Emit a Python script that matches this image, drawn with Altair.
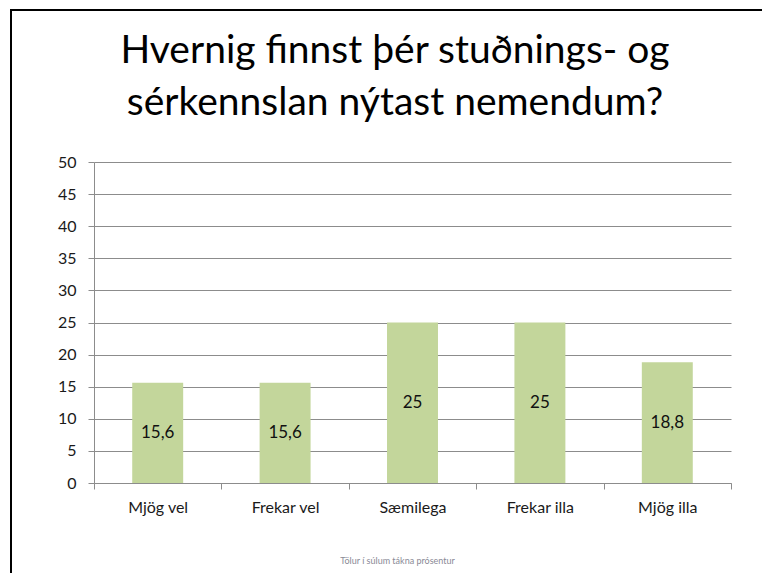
import altair as alt
import pandas as pd

categories = ["Mjög vel", "Frekar vel", "Sæmilega", "Frekar illa", "Mjög illa"]
values = [15.6, 15.6, 25, 25, 18.8]
labels = ["15,6", "15,6", "25", "25", "18,8"]
y_ticks = [0, 5, 10, 15, 20, 25, 30, 35, 40, 45, 50]
title_lines = ["Hvernig finnst þér stuðnings- og", "sérkennslan nýtast nemendum?"]
footnote = "Tölur í súlum tákna prósentur"

df = pd.DataFrame({"cat": categories, "value": values, "label": labels})

W, H = 637, 321
FONT = "Lato"
GRID = "#8c8c8c"
BAR = "#C3D69B"

x_scale = alt.Scale(paddingInner=0, paddingOuter=0)
x_axis = alt.Axis(
    title=footnote,
    titleFont=FONT,
    titleFontSize=9,
    titleFontWeight="normal",
    titleColor="#8a8a96",
    titleX=303,
    titleY=77,
    titleAlign="center",
    titleBaseline="middle",
    labelFont=FONT,
    labelFontSize=16,
    labelColor="#1a1a1a",
    labelAngle=0,
    labelPadding=10,
    tickBand="extent",
    tickSize=6,
    tickColor=GRID,
    domainColor=GRID,
    grid=False,
)

y_scale = alt.Scale(domain=[0, 50], nice=False)
y_axis = alt.Axis(
    title=None,
    values=y_ticks,
    labelOverlap=False,
    labelFont=FONT,
    labelFontSize=16,
    labelColor="#1a1a1a",
    labelPadding=12,
    tickSize=6,
    tickColor=GRID,
    domainColor=GRID,
    gridColor=GRID,
    gridWidth=1,
)

bars = alt.Chart(df).mark_bar(color=BAR, width=alt.RelativeBandSize(0.4)).encode(
    x=alt.X("cat:N", sort=categories, scale=x_scale, axis=x_axis),
    y=alt.Y("value:Q", scale=y_scale, axis=y_axis),
)

texts = (
    alt.Chart(df)
    .transform_calculate(mid="datum.value / 2")
    .mark_text(font=FONT, fontSize=17, color="#111111", baseline="middle")
    .encode(
        x=alt.X("cat:N", sort=categories, scale=x_scale, axis=x_axis),
        y=alt.Y("mid:Q", scale=y_scale, axis=y_axis),
        text="label:N",
    )
)

title = (
    alt.Chart(pd.DataFrame({"k": [0]}))
    .mark_text(
        text=title_lines,
        font=FONT,
        fontSize=39,
        color="black",
        align="center",
        baseline="alphabetic",
        lineHeight=52,
    )
    .encode(x=alt.value(301), y=alt.value(-99))
)

border = (
    alt.Chart(pd.DataFrame({"k": [0]}))
    .mark_rect(filled=False, stroke="black", strokeWidth=2)
    .encode(x=alt.value(-83), x2=alt.value(760), y=alt.value(-152), y2=alt.value(600))
)

chart = (
    alt.layer(bars, texts, title, border)
    .properties(
        width=W,
        height=H,
        autosize=alt.AutoSizeParams(type="none"),
        padding={"left": 86, "top": 154, "right": 31, "bottom": 90},
    )
    .configure_view(stroke=None)
    .configure_axis(gridDash=[])
)

chart.save("out.html", embed_options={"renderer": "svg", "actions": False})
